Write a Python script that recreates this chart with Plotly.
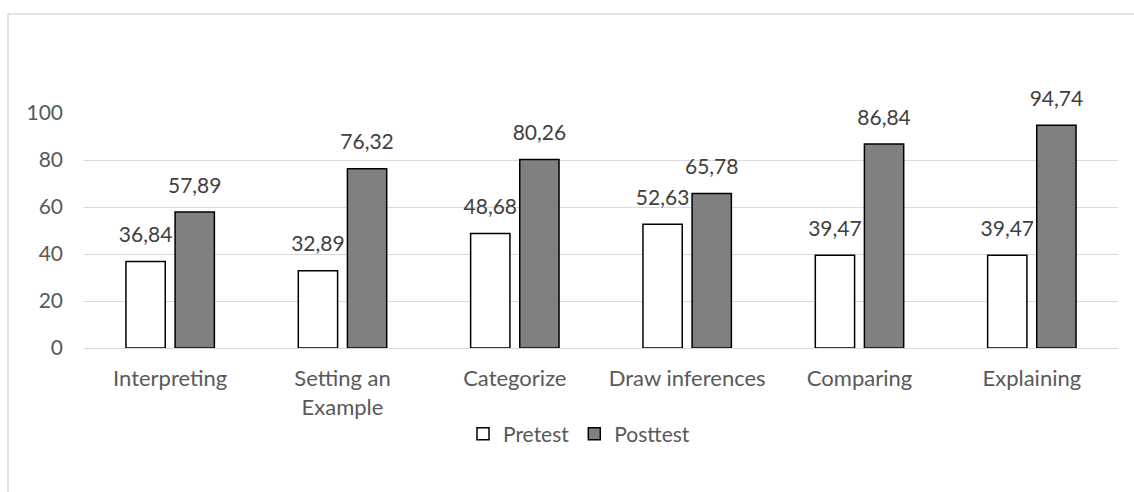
import plotly.graph_objects as go

categories = ["Interpreting", "Setting an<br>Example", "Categorize", "Draw inferences", "Comparing", "Explaining"]
pretest = [36.84, 32.89, 48.68, 52.63, 39.47, 39.47]
posttest = [57.89, 76.32, 80.26, 65.78, 86.84, 94.74]
y_ticks = [0, 20, 40, 60, 80, 100]

def fmt(v):
    return f"{v:.2f}".replace(".", ",")

W, H = 1134, 492
L, R, T, B = 84, 16, 113, 144
pw, ph = W - L - R, H - T - B

font_family = "Lato, Open Sans, sans-serif"
txt_color = "#595959"
FS = 21

fig = go.Figure()
for name, vals, col in [("Pretest", pretest, "white"), ("Posttest", posttest, "#808080")]:
    fig.add_trace(go.Bar(
        name=name, x=categories, y=vals,
        marker=dict(color=col, line=dict(color="black", width=1.5)),
        text=[fmt(v) for v in vals], textposition="outside",
        texttemplate="<span style='font-size:21px'>%{text}</span><br> ",
        textfont=dict(size=11, color="#404040", family=font_family),
        constraintext="none", cliponaxis=False,
    ))

def px2x(px):
    return (px - L) / pw

def py2y(py):
    return (H - B - py) / ph

fig.update_layout(
    width=W, height=H,
    margin=dict(l=L, r=R, t=T, b=B, autoexpand=False),
    barmode="group", bargap=0.43, bargroupgap=0.2,
    plot_bgcolor="white", paper_bgcolor="white",
    font=dict(family=font_family, size=FS, color=txt_color),
    showlegend=True,
    legend=dict(orientation="h", x=px2x(579), xanchor="center", y=py2y(434), yanchor="middle",
                font=dict(size=FS, color=txt_color), itemwidth=30, traceorder="normal"),
    xaxis=dict(showgrid=False, showline=False, ticks="", ticklabelstandoff=15,
               tickfont=dict(size=22, color=txt_color)),
    yaxis=dict(range=[0, 100], tickvals=y_ticks, showgrid=True, gridcolor="#d9d9d9", gridwidth=1,
               zeroline=True, zerolinecolor="#d9d9d9", zerolinewidth=1, showline=False, ticks="",
               ticklabelstandoff=20, tickfont=dict(size=FS, color=txt_color)),
    shapes=[
        dict(type="line", xref="paper", yref="paper", x0=px2x(8), x1=px2x(1140), y0=py2y(14), y1=py2y(14),
             line=dict(color="#d9d9d9", width=1.5)),
        dict(type="line", xref="paper", yref="paper", x0=px2x(8), x1=px2x(8), y0=py2y(14), y1=py2y(500),
             line=dict(color="#d9d9d9", width=1.5)),
    ],
)
fig.write_html("out.html", config={"displayModeBar": False},
               post_script="document.body.style.margin='0';")
